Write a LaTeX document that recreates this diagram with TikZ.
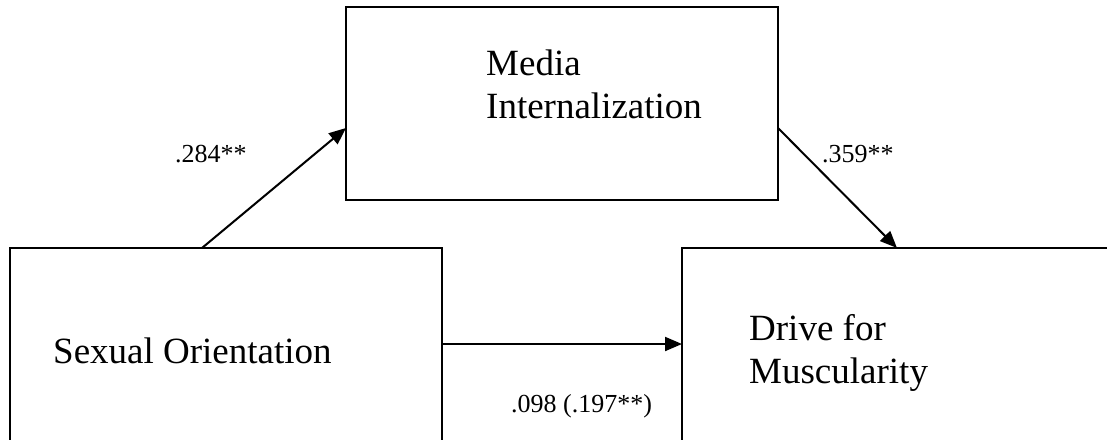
\documentclass[tikz,border=0pt]{standalone}
\usepackage{fontspec}
\setmainfont{Liberation Serif}
\usetikzlibrary{arrows.meta,positioning}
\tikzset{
  box/.style={draw, line width=2.6pt, minimum width=432pt, minimum height=193pt,
              inner sep=0pt, outer sep=0pt, anchor=north west},
  boxtext/.style={font=\fontsize{37}{42.5}\selectfont, align=left, anchor=base west, inner sep=0pt},
  lab/.style={font=\fontsize{26}{30}\selectfont, anchor=base west, inner sep=0pt},
  arr/.style={-{Triangle[length=17pt, width=14pt]}, line width=2pt},
}
\begin{document}
\begin{tikzpicture}[x=1pt, y=-1pt]
    \useasboundingbox (0,0) rectangle (1107,439);
    \clip (0,0) rectangle (1107,439);
    \node[box] (media) at (346,7) {};
    \node[box] (sexor) at (10,248) {};
    \node[box] (drive) at (682,248) {};
    % base anchor of a two-line node sits on its last line
    \node[boxtext] (mediatext) at (486,118) {Media\\Internalization};
    \node[boxtext] (sexortext) at (53,363) {Sexual Orientation};
    \node[boxtext] (drivetext) at (749,383) {Drive for\\Muscularity};
    \draw[arr] ([xshift=192pt]sexor.north west) -- ([yshift=-121pt]media.north west);
    \draw[arr] ([yshift=-121pt]media.north east) -- ([xshift=215pt]drive.north west);
    \draw[arr] ([yshift=-96pt]sexor.north east) -- ([yshift=-96pt]drive.north west);
    \node[lab] (a) at (175,162) {.284**};
    \node[lab] (b) at (822,162) {.359**};
    \node[lab] (c) at (511,412) {.098 (.197**)};
  \end{tikzpicture}
\end{document}
